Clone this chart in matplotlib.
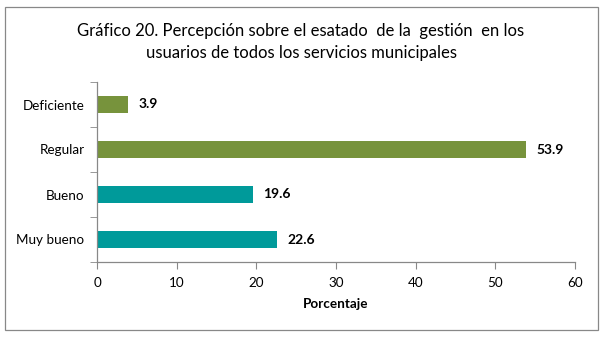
import matplotlib.pyplot as plt
from matplotlib.patches import Rectangle

plt.rcParams['font.family'] = ['Lato', 'DejaVu Sans']

categorias = ['Muy bueno', 'Bueno', 'Regular', 'Deficiente']
valores = [22.6, 19.6, 53.9, 3.9]
colores = ['#009A9A', '#009A9A', '#77933C', '#77933C']
xticks = [0, 10, 20, 30, 40, 50, 60]

fig = plt.figure(figsize=(6.08, 3.37), dpi=100, facecolor='white')
ax = fig.add_axes([97 / 608, 1 - 262 / 337, (575 - 97) / 608, 180 / 337])

pos = list(range(len(categorias)))
ax.barh(pos, valores, height=0.38, color=colores, edgecolor='none')
for p, v in zip(pos, valores):
    ax.text(v + 1.3, p, '%.1f' % v, va='center', ha='left',
            fontsize=10, fontweight='bold', color='black')

ax.set_xlim(0, 60)
ax.set_ylim(-0.5, 3.5)
ax.set_xticks(xticks)
ax.set_yticks(pos)
ax.set_yticklabels(categorias, fontsize=9.7)
ax.set_yticks([-0.5, 0.5, 1.5, 2.5, 3.5], minor=True)
ax.tick_params(axis='y', which='major', length=0, pad=9)
ax.tick_params(axis='y', which='minor', length=5, color='#888888', direction='out')
ax.tick_params(axis='x', length=5, color='#888888', direction='out', labelsize=9.7, pad=6)

for s in ['top', 'right']:
    ax.spines[s].set_visible(False)
for s in ['left', 'bottom']:
    ax.spines[s].set_color('#888888')
    ax.spines[s].set_linewidth(0.9)

ax.set_xlabel('Porcentaje', fontsize=9.7, fontweight='bold', labelpad=6)

fig.text(301 / 608, 1 - 42 / 337,
         'Gráfico 20. Percepción sobre el esatado  de la  gestión  en los\n'
         'usuarios de todos los servicios municipales',
         ha='center', va='center', fontsize=12, linespacing=1.45)

fig.patches.append(Rectangle((5 / 608, 1 - 330 / 337), 593 / 608, 323 / 337,
                             transform=fig.transFigure, fill=False,
                             edgecolor='#888888', linewidth=0.9))

fig.savefig('out.png', dpi=100, facecolor='white')
